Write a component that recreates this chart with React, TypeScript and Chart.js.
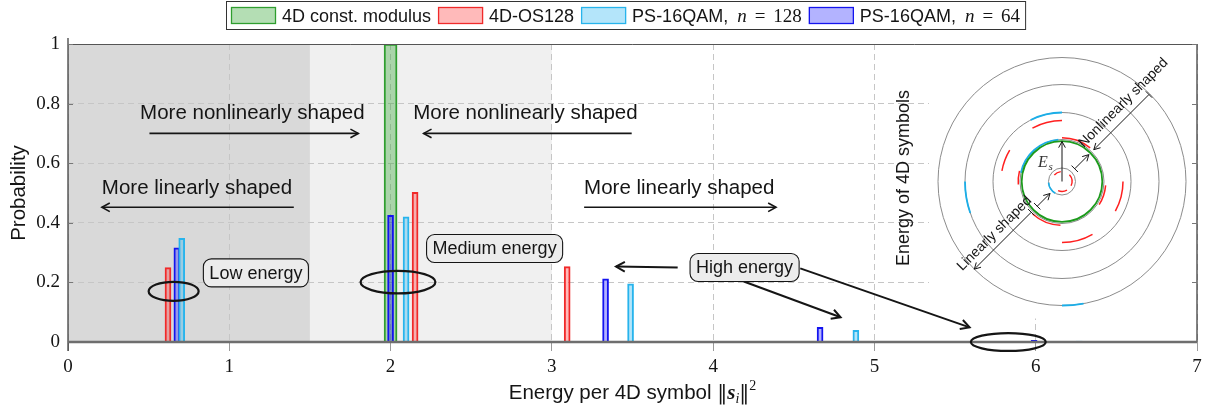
import React, { useEffect, useRef } from "react";
import { Chart, registerables } from "chart.js";
Chart.register(...registerables);

// ---------- data ----------
const X_TICKS = [0, 1, 2, 3, 4, 5, 6, 7];
const Y_TICKS = [0, 0.2, 0.4, 0.6, 0.8, 1];
const Y_TICK_LABELS = ["0", "0.2", "0.4", "0.6", "0.8", "1"];

const CONST_MOD_E = [2.0];
const CONST_MOD_P = [1.0];
const OS128_E = [0.62, 2.152, 3.095];
const OS128_P = [0.25, 0.502, 0.253];
const PS128_E = [0.705, 2.096, 3.488, 4.885, 6.27];
const PS128_P = [0.348, 0.42, 0.195, 0.039, 0.003];
const PS64_E = [0.675, 2.0, 3.333, 4.663, 5.99];
const PS64_P = [0.316, 0.425, 0.212, 0.049, 0.006];

const SERIES_NAMES = ["4D const. modulus", "4D-OS128", "PS-16QAM,", "PS-16QAM,"];
const SERIES_N = ["", "", "128", "64"];

const REGION_FROM = [0, 1.5];
const REGION_TO = [1.5, 3];

const SHAPE_TEXT = ["More nonlinearly shaped", "More nonlinearly shaped", "More linearly shaped", "More linearly shaped"];
const SHAPE_TEXT_X = [0.447, 2.14, 0.21, 3.2];
const SHAPE_TEXT_Y = [0.747, 0.747, 0.497, 0.497];
const SHAPE_ARROW_FROM = [0.505, 3.495, 1.4, 3.2];
const SHAPE_ARROW_TO = [1.8, 2.205, 0.21, 4.39];
const SHAPE_ARROW_Y = [0.70, 0.70, 0.452, 0.452];

const ENERGY_TEXT = ["Low energy", "Medium energy", "High energy"];
const ENERGY_X = [1.165, 2.645, 4.195];
const ENERGY_Y = [0.232, 0.314, 0.25];
const ELLIPSE_X = [0.655, 2.046, 5.83];
const ELLIPSE_Y = [0.17, 0.201, 0.0];
const ELLIPSE_RX = [0.155, 0.232, 0.232];
const ELLIPSE_RY = [0.032, 0.038, 0.03];
// arrows from "High energy" box
const HIGH_ARROW_X1 = [3.78, 4.19, 4.54];
const HIGH_ARROW_Y1 = [0.25, 0.203, 0.247];
const HIGH_ARROW_X2 = [3.398, 4.79, 5.59];
const HIGH_ARROW_Y2 = [0.253, 0.083, 0.049];

// ---------- styles ----------
const GREEN = "#2f9e2f", GREEN_FILL = "rgba(40,160,40,0.35)";
const RED = "#f02a2a", RED_FILL = "rgba(255,40,40,0.32)";
const CYAN = "#28b4ec", CYAN_FILL = "rgba(40,180,240,0.35)";
const BLUE = "#1414ee", BLUE_FILL = "rgba(20,20,255,0.32)";
const STROKES = [GREEN, RED, CYAN, BLUE];
const FILLS = [GREEN_FILL, RED_FILL, CYAN_FILL, BLUE_FILL];
const REGION_COLORS = ["#d9d9d9", "#f0f0f0"];
const SANS = '"Liberation Sans", Arial, sans-serif';
const SERIF = '"Liberation Serif", "DejaVu Serif", serif';
const INK = "#151515";

function arrowHead(ctx: CanvasRenderingContext2D, x1: number, y1: number, x2: number, y2: number, size = 9) {
  const a = Math.atan2(y2 - y1, x2 - x1);
  ctx.beginPath();
  ctx.moveTo(x2 - size * Math.cos(a - 0.5), y2 - size * Math.sin(a - 0.5));
  ctx.lineTo(x2, y2);
  ctx.lineTo(x2 - size * Math.cos(a + 0.5), y2 - size * Math.sin(a + 0.5));
  ctx.stroke();
}
function arrow(ctx: CanvasRenderingContext2D, x1: number, y1: number, x2: number, y2: number, size = 9) {
  ctx.beginPath();
  ctx.moveTo(x1, y1);
  ctx.lineTo(x2, y2);
  ctx.stroke();
  arrowHead(ctx, x1, y1, x2, y2, size);
}
function roundRect(ctx: CanvasRenderingContext2D, x: number, y: number, w: number, h: number, r: number) {
  ctx.beginPath();
  ctx.moveTo(x + r, y);
  ctx.lineTo(x + w - r, y);
  ctx.arcTo(x + w, y, x + w, y + r, r);
  ctx.lineTo(x + w, y + h - r);
  ctx.arcTo(x + w, y + h, x + w - r, y + h, r);
  ctx.lineTo(x + r, y + h);
  ctx.arcTo(x, y + h, x, y + h - r, r);
  ctx.lineTo(x, y + r);
  ctx.arcTo(x, y, x + r, y, r);
  ctx.closePath();
}

function drawInset(ctx: CanvasRenderingContext2D, cx: number, cy: number) {
  ctx.save();
  ctx.lineWidth = 1;
  ctx.strokeStyle = "#8c8c8c";
  for (const r of [124, 97, 69, 42, 13.5]) {
    ctx.beginPath();
    ctx.arc(cx, cy, r, 0, Math.PI * 2);
    ctx.stroke();
  }
  const arc = (r: number, a1: number, a2: number, color: string, w: number) => {
    ctx.strokeStyle = color;
    ctx.lineWidth = w;
    ctx.beginPath();
    ctx.arc(cx, cy, r, (-a2 * Math.PI) / 180, (-a1 * Math.PI) / 180);
    ctx.stroke();
  };
  const R = "#ff1f1f", C = "#1aaee8";
  arc(69, 90, 117, C, 1.8);
  arc(97, 180, 199, C, 1.8);
  arc(124, 270, 280, C, 1.8);
  arc(42, 95, 168, C, 1.8);
  arc(13.5, 185, 240, C, 1.6);
  arc(61, 90, 119, R, 1.5);
  arc(61, 149, 170, R, 1.5);
  arc(61, -29, 0, R, 1.5);
  arc(61, 270, 300, R, 1.5);
  arc(43.8, 50, 90, R, 1.5);
  arc(43.8, 166, 184, R, 1.5);
  arc(43.8, 228, 268, R, 1.5);
  arc(43.8, -32, -5, R, 1.5);
  arc(10, 97, 140, R, 1.4);
  arc(10, -25, 42, R, 1.4);
  arc(10, 247, 300, R, 1.4);
  ctx.strokeStyle = "#1c9a1c";
  ctx.lineWidth = 1.8;
  ctx.beginPath();
  ctx.arc(cx, cy, 40.3, 0, Math.PI * 2);
  ctx.stroke();

  ctx.strokeStyle = INK;
  ctx.lineWidth = 1;
  arrow(ctx, cx, cy, cx, cy - 40, 7);
  ctx.fillStyle = "#333";
  ctx.font = `italic 16px ${SERIF}`;
  ctx.textBaseline = "alphabetic";
  ctx.textAlign = "left";
  ctx.fillText("E", cx - 24, cy - 15);
  ctx.font = `italic 11px ${SERIF}`;
  ctx.fillText("s", cx - 13.5, cy - 12);

  const k = Math.SQRT1_2;
  const P = (r: number, s: number) => [cx + s * r * k, cy - s * r * k];
  const bar = (r: number, s: number) => {
    const [x, y] = P(r, s);
    ctx.beginPath();
    ctx.moveTo(x - 4.5 * k, y - 4.5 * k);
    ctx.lineTo(x + 4.5 * k, y + 4.5 * k);
    ctx.stroke();
  };
  const seg = (r1: number, r2: number, s: number) => {
    const [x1, y1] = P(r1, s);
    const [x2, y2] = P(r2, s);
    arrow(ctx, x1, y1, x2, y2, 7);
    bar(r1, s);
  };
  seg(18, 38, 1);
  seg(123, 45, 1);
  seg(43.5, 124, -1);
  seg(35, 17, -1);

  ctx.fillStyle = INK;
  ctx.font = `14px ${SANS}`;
  ctx.textAlign = "center";
  ctx.textBaseline = "middle";
  const label = (t: string, r: number, s: number, off: number) => {
    const [x, y] = P(r, s);
    ctx.save();
    ctx.translate(x - off * k, y - off * k);
    ctx.rotate(-Math.PI / 4);
    ctx.fillText(t, 0, 0);
    ctx.restore();
  };
  label("Linearly shaped", 84.5, -1, 11);
  label("Nonlinearly shaped", 99, 1, 12);
  ctx.restore();
}

const overlay = {
  id: "overlay",
  beforeDraw(chart: any) {
    const { ctx, chartArea: a, scales } = chart;
    const x = scales.x;
    ctx.save();
    ctx.fillStyle = "#fff";
    ctx.fillRect(0, 0, chart.width, chart.height);
    REGION_FROM.forEach((f, i) => {
      const x1 = x.getPixelForValue(f), x2 = x.getPixelForValue(REGION_TO[i]);
      ctx.fillStyle = REGION_COLORS[i];
      ctx.fillRect(x1, a.top, x2 - x1, a.bottom - a.top);
    });
    ctx.restore();
  },
  afterDatasetsDraw(chart: any) {
    const { ctx, chartArea: a, scales } = chart;
    const x = scales.x, y = scales.y;
    const px = (v: number) => x.getPixelForValue(v);
    const py = (v: number) => y.getPixelForValue(v);
    ctx.save();
    // inset panel
    const cx = a.right - 135, cy = a.top + 137.5;
    ctx.fillStyle = "#fff";
    ctx.fillRect(cx - 133, a.top + 0.5, a.right - (cx - 133) - 1, 274);

    // frame
    ctx.strokeStyle = "#555";
    ctx.lineWidth = 1;
    ctx.beginPath();
    ctx.moveTo(a.left, a.top + 0.5);
    ctx.lineTo(a.right, a.top + 0.5);
    ctx.stroke();
    ctx.strokeStyle = "#333";
    ctx.lineWidth = 1.2;
    ctx.beginPath();
    ctx.moveTo(a.left, a.bottom + 9);
    ctx.lineTo(a.left, a.top - 6);
    ctx.moveTo(a.right, a.bottom);
    ctx.lineTo(a.right, a.top);
    ctx.stroke();
    ctx.strokeStyle = "#777";
    ctx.lineWidth = 1;
    for (const t of Y_TICKS) {
      const yy = Math.round(py(t)) + 0.5;
      ctx.beginPath();
      ctx.moveTo(a.left, yy);
      ctx.lineTo(a.left + 5, yy);
      ctx.moveTo(a.right, yy);
      ctx.lineTo(a.right - 5, yy);
      ctx.stroke();
    }
    ctx.strokeStyle = "#6e6e6e";
    ctx.lineWidth = 2.4;
    ctx.beginPath();
    ctx.moveTo(a.left, a.bottom);
    ctx.lineTo(a.right, a.bottom);
    ctx.stroke();

    // shaping arrows
    ctx.fillStyle = INK;
    ctx.strokeStyle = INK;
    ctx.lineWidth = 1.6;
    ctx.font = `20.5px ${SANS}`;
    ctx.textAlign = "left";
    ctx.textBaseline = "alphabetic";
    SHAPE_TEXT.forEach((t, i) => {
      ctx.fillText(t, px(SHAPE_TEXT_X[i]), py(SHAPE_TEXT_Y[i]));
      arrow(ctx, px(SHAPE_ARROW_FROM[i]), py(SHAPE_ARROW_Y[i]), px(SHAPE_ARROW_TO[i]), py(SHAPE_ARROW_Y[i]), 9);
    });

    // high energy arrows
    ctx.lineWidth = 2;
    HIGH_ARROW_X1.forEach((v, i) => {
      arrow(ctx, px(v), py(HIGH_ARROW_Y1[i]), px(HIGH_ARROW_X2[i]), py(HIGH_ARROW_Y2[i]), 10);
    });

    // ellipses
    ctx.lineWidth = 2.2;
    ELLIPSE_X.forEach((v, i) => {
      const ex = px(v), ey = py(ELLIPSE_Y[i]);
      const rx = px(v + ELLIPSE_RX[i]) - ex, ry = ey - py(ELLIPSE_Y[i] + ELLIPSE_RY[i]);
      ctx.beginPath();
      ctx.ellipse(ex, ey, rx, ry, 0, 0, Math.PI * 2);
      ctx.stroke();
    });

    // energy boxes
    ctx.font = `18px ${SANS}`;
    ENERGY_TEXT.forEach((t, i) => {
      const w = ctx.measureText(t).width + 12;
      const h = 28;
      const bx = px(ENERGY_X[i]), by = py(ENERGY_Y[i]);
      roundRect(ctx, bx - w / 2, by - h / 2, w, h, 8);
      ctx.fillStyle = "#ececec";
      ctx.fill();
      ctx.lineWidth = 1.1;
      ctx.strokeStyle = INK;
      ctx.stroke();
      ctx.fillStyle = INK;
      ctx.textAlign = "center";
      ctx.textBaseline = "middle";
      ctx.fillText(t, bx, by + 1);
    });

    // inset
    drawInset(ctx, cx, cy);
    ctx.save();
    ctx.translate(cx - 157.5, cy - 3.5);
    ctx.rotate(-Math.PI / 2);
    ctx.font = `18px ${SANS}`;
    ctx.fillStyle = INK;
    ctx.textAlign = "center";
    ctx.textBaseline = "middle";
    ctx.fillText("Energy of 4D symbols", 0, 0);
    ctx.restore();
    ctx.restore();
  },
  afterDraw(chart: any) {
    const { ctx, chartArea: a } = chart;
    ctx.save();
    ctx.fillStyle = INK;
    // y title
    ctx.save();
    ctx.translate(19, (a.top + a.bottom) / 2);
    ctx.rotate(-Math.PI / 2);
    ctx.font = `20.5px ${SANS}`;
    ctx.textAlign = "center";
    ctx.textBaseline = "middle";
    ctx.fillText("Probability", 0, 0);
    ctx.restore();

    // x title
    const parts = [
      { t: "Energy per 4D symbol ", f: `20.5px ${SANS}`, dy: 0 },
      { t: "\u2016", f: `20px "DejaVu Serif", serif`, dy: 0 },
      { t: "s", f: `italic bold 21px ${SERIF}`, dy: 0 },
      { t: "i", f: `italic 14px ${SERIF}`, dy: 4 },
      { t: "\u2016", f: `20px "DejaVu Serif", serif`, dy: 0 },
      { t: "2", f: `14px ${SERIF}`, dy: -9 },
    ];
    let total = 0;
    const ws = parts.map((p) => {
      ctx.font = p.f;
      const w = ctx.measureText(p.t).width;
      total += w;
      return w;
    });
    let xx = (a.left + a.right) / 2 - total / 2;
    ctx.textAlign = "left";
    ctx.textBaseline = "alphabetic";
    parts.forEach((p, i) => {
      ctx.font = p.f;
      ctx.fillText(p.t, xx, 399 + p.dy);
      xx += ws[i];
    });

    // legend
    const patchW = 45, gapPT = 6, gapE = 7, pad = 5, eqGap = 8, preN = 9;
    const mathFont = `19px ${SERIF}`, mathItalic = `italic 19px ${SERIF}`;
    const measure = (i: number) => {
      ctx.font = `18px ${SANS}`;
      let w = ctx.measureText(SERIES_NAMES[i]).width;
      if (SERIES_N[i]) {
        ctx.font = mathItalic;
        w += preN + ctx.measureText("n").width;
        ctx.font = mathFont;
        w += eqGap * 2 + ctx.measureText("=").width + ctx.measureText(SERIES_N[i]).width;
      }
      return w;
    };
    const widths = SERIES_NAMES.map((_, i) => measure(i));
    const totalW = widths.reduce((s, w) => s + w + patchW + gapPT, 0) + gapE * (widths.length - 1) + pad * 2;
    const lx = 226;
    ctx.fillStyle = "#fff";
    ctx.fillRect(lx, 1.5, totalW, 28);
    ctx.strokeStyle = "#333";
    ctx.lineWidth = 1;
    ctx.strokeRect(lx + 0.5, 1.5, totalW, 28);
    let ex = lx + pad;
    widths.forEach((w, i) => {
      ctx.fillStyle = FILLS[i];
      ctx.fillRect(ex, 7, patchW, 17);
      ctx.strokeStyle = STROKES[i];
      ctx.lineWidth = 1.3;
      ctx.strokeRect(ex + 0.5, 7.5, patchW - 1, 16);
      ex += patchW + gapPT;
      ctx.fillStyle = INK;
      ctx.font = `18px ${SANS}`;
      ctx.fillText(SERIES_NAMES[i], ex, 22);
      let tx = ex + ctx.measureText(SERIES_NAMES[i]).width;
      if (SERIES_N[i]) {
        tx += preN;
        ctx.font = mathItalic;
        ctx.fillText("n", tx, 22);
        tx += ctx.measureText("n").width + eqGap;
        ctx.font = mathFont;
        ctx.fillText("=", tx, 22);
        tx += ctx.measureText("=").width + eqGap;
        ctx.fillText(SERIES_N[i], tx, 22);
      }
      ex += w + gapE;
    });
    ctx.restore();
  },
};

const pts = (xs: number[], ps: number[]) => xs.map((x, i) => ({ x, y: ps[i] }));

export default function App() {
  const ref = useRef<HTMLCanvasElement | null>(null);
  useEffect(() => {
    if (!ref.current) return;
    const gridColor = "#c6c6c6";
    const chart = new Chart(ref.current, {
      type: "bar",
      data: {
        datasets: [
          { label: SERIES_NAMES[0], data: pts(CONST_MOD_E, CONST_MOD_P), backgroundColor: GREEN_FILL, borderColor: GREEN, borderWidth: 1.3, barThickness: 13, order: 5 },
          { label: SERIES_NAMES[1], data: pts(OS128_E, OS128_P), backgroundColor: RED_FILL, borderColor: RED, borderWidth: 1.3, barThickness: 6, order: 1 },
          { label: SERIES_NAMES[2] + " n = 128", data: pts(PS128_E, PS128_P), backgroundColor: CYAN_FILL, borderColor: CYAN, borderWidth: 1.3, barThickness: 6, order: 1 },
          { label: SERIES_NAMES[3] + " n = 64", data: pts(PS64_E, PS64_P), backgroundColor: BLUE_FILL, borderColor: BLUE, borderWidth: 1.3, barThickness: 6, order: 1 },
        ] as any,
      },
      options: {
        animation: false,
        responsive: true,
        maintainAspectRatio: false,
        layout: { padding: { left: 9, right: 15, top: 44, bottom: 0 } },
        plugins: { legend: { display: false }, tooltip: { enabled: false } },
        datasets: { bar: { grouped: false } } as any,
        scales: {
          x: {
            type: "linear",
            min: 0,
            max: 7,
            offset: false,
            afterBuildTicks: (s: any) => {
              s.ticks = X_TICKS.map((v) => ({ value: v }));
            },
            afterFit: (s: any) => {
              s.height = 65;
            },
            grid: { offset: false, color: gridColor, lineWidth: 1, drawTicks: true, tickLength: 9, tickColor: "#9a9a9a", tickBorderDash: [], tickWidth: 1 } as any,
            border: { display: false, dash: [6, 4] },
            ticks: { font: { family: SERIF, size: 19 }, color: INK, padding: 5, maxRotation: 0, callback: (v: any) => String(v) },
          },
          y: {
            min: 0,
            max: 1,
            afterBuildTicks: (s: any) => {
              s.ticks = Y_TICKS.map((v) => ({ value: v }));
            },
            afterFit: (s: any) => {
              s.width = 59;
            },
            grid: { color: gridColor, lineWidth: 1, drawTicks: false },
            border: { display: false, dash: [6, 4] },
            ticks: { font: { family: SERIF, size: 19 }, color: INK, padding: 8, callback: (_v: any, i: number) => Y_TICK_LABELS[i] },
          },
        } as any,
      },
      plugins: [overlay],
    });
    return () => chart.destroy();
  }, []);
  return (
    <div style={{ position: "absolute", left: 0, top: 0, width: 1212, height: 407 }}>
      <canvas ref={ref} />
    </div>
  );
}
